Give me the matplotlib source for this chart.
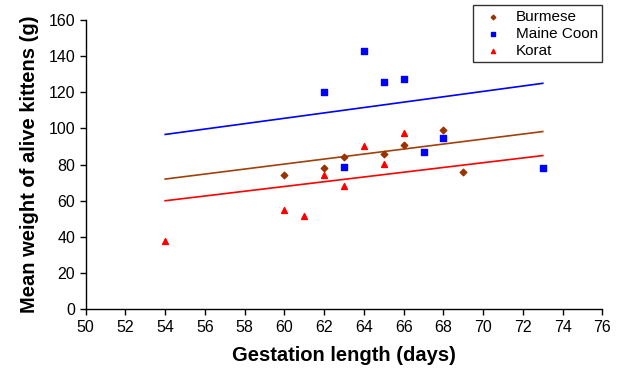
import matplotlib
matplotlib.use("Agg")
from matplotlib import pyplot as plt

plt.rcParams["font.family"] = ["Liberation Sans", "DejaVu Sans"]

# data
burmese_x = [60, 62, 63, 65, 66, 68, 69]
burmese_y = [74.5, 78, 84, 86, 91, 99, 76]
maine_x = [62, 63, 64, 65, 66, 67, 68, 73]
maine_y = [120, 78.5, 143, 125.5, 127.5, 87, 95, 78]
korat_x = [54, 60, 61, 62, 63, 64, 65, 66]
korat_y = [37.5, 55, 51.5, 74, 68, 90.5, 80.5, 97.5]

# trend line end points (x = 54 and 73)
trend_x = [54, 73]
burmese_trend = [72, 98.3]
maine_trend = [96.7, 125]
korat_trend = [60, 85]

x_ticks = list(range(50, 77, 2))
y_ticks = list(range(0, 161, 20))


def main():
    fig = plt.figure(figsize=(6.21, 3.72), dpi=100)
    ax = fig.add_axes([0.138, 0.169, 0.832, 0.777])

    ax.plot(trend_x, maine_trend, color="#0000ff", lw=1.2)
    ax.plot(trend_x, burmese_trend, color="#a0400a", lw=1.2)
    ax.plot(trend_x, korat_trend, color="#ff0000", lw=1.2)

    ax.scatter(burmese_x, burmese_y, marker="D", s=11, color="#993300",
               label="Burmese", zorder=3)
    ax.scatter(maine_x, maine_y, marker="s", s=16, color="#0000ff",
               label="Maine Coon", zorder=3)
    ax.scatter(korat_x, korat_y, marker="^", s=18, color="#ff0000",
               label="Korat", zorder=3)

    ax.set_xlim(50, 76)
    ax.set_ylim(0, 160)
    ax.set_xticks(x_ticks)
    ax.set_yticks(y_ticks)
    ax.tick_params(direction="out", length=4, width=1, labelsize=11.5,
                   colors="black")
    for side in ["top", "right"]:
        ax.spines[side].set_visible(False)
    for side in ["left", "bottom"]:
        ax.spines[side].set_linewidth(1)

    ax.set_xlabel("Gestation length (days)", fontsize=14.5,
                  fontweight="bold", labelpad=8)
    ax.set_ylabel("Mean weight of alive kittens (g)", fontsize=14.5,
                  fontweight="bold", labelpad=7)

    leg = ax.legend(loc="upper right", bbox_to_anchor=(1.0, 1.052),
                    fontsize=11, frameon=True, fancybox=False,
                    edgecolor="black", borderpad=0.3, handletextpad=0.5,
                    labelspacing=0.2, markerscale=0.7, borderaxespad=0)
    leg.get_frame().set_linewidth(1)

    fig.savefig("out.png", dpi=100)


if __name__ == "__main__":
    main()
